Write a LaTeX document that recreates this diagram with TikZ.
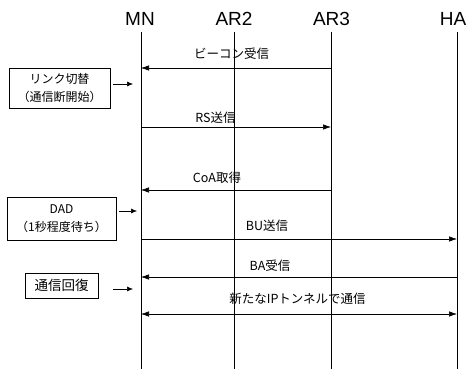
\documentclass[tikz,border=0pt]{standalone}
\usepackage{fontspec}
\setmainfont{Liberation Sans}
\newfontfamily\jpfont{Noto Sans CJK JP}
\usetikzlibrary{arrows.meta}
\begin{document}
\begin{tikzpicture}[x=1pt,y=-1pt,
  head/.style={font=\fontsize{19}{22}\selectfont},
  lbl/.style={font=\jpfont\fontsize{12.5}{14}\selectfont, inner sep=0pt},
  life/.style={line width=0.6pt},
  msg/.style={line width=0.6pt,-{Latex[length=8pt,width=5.5pt]}},
  dmsg/.style={line width=0.6pt,{Latex[length=8pt,width=5.5pt]}-{Latex[length=8pt,width=5.5pt]}},
  note/.style={draw,line width=0.7pt,font=\jpfont\fontsize{12}{17.5}\selectfont,align=center,inner sep=0pt},
  side/.style={line width=0.6pt,-{Latex[length=6pt,width=5pt]}}]
\useasboundingbox (0,0) rectangle (469,369);
% headers
\node[head] (hMN) at (140,18.5) {MN};
\node[head] (hAR2) at (234,18.5) {AR2};
\node[head] (hAR3) at (331.5,18.5) {AR3};
\node[head] (hHA) at (453,18.5) {HA};
% lifelines
\foreach \n/\x in {MN/141,AR2/234,AR3/331,HA/457}{
  \coordinate (\n t) at (\x,32);
  \coordinate (\n b) at (\x,369);
  \draw[life] (\n t) -- (\n b);
}
% message endpoints
\foreach \n/\x in {MN/141,AR3/331,HA/457}{
  \foreach \k/\y in {1/68,2/127,3/190,4/239,5/277,6/314}{
    \coordinate (\n\k) at (\x,\y);
  }
}
\draw[msg] (AR31) -- (MN1);
\draw[msg] (MN2) -- (AR32);
\draw[msg] (AR33) -- (MN3);
\draw[msg] (MN4) -- (HA4);
\draw[msg] (HA5) -- (MN5);
\draw[dmsg] (MN6) -- (HA6);
\node[lbl] (m1) at (231.5,53.5) {ビーコン受信};
\node[lbl] (m2) at (215.5,117.5) {RS送信};
\node[lbl] (m3) at (217,178) {CoA取得};
\node[lbl] (m4) at (267,226) {BU送信};
\node[lbl] (m5) at (270,266) {BA受信};
\node[lbl] (m6) at (297.5,299) {新たなIPトンネルで通信};
% side notes
\node[note,minimum width=101pt,minimum height=40pt] (n1) at (59.5,88) {リンク切替\\（通信断開始）};
\node[note,minimum width=109pt,minimum height=43pt] (n2) at (61.5,218.5) {DAD\\（1秒程度待ち）};
\node[note,minimum width=73pt,minimum height=25pt,font=\jpfont\fontsize{13.5}{16}\selectfont] (n3) at (61.5,285.5) {通信回復};
\coordinate (a1) at (133,84);
\coordinate (a2) at (137,211);
\coordinate (a3) at (133,289);
\draw[side] (n1.east |- a1) ++(3,0) -- (a1);
\draw[side] (n2.east |- a2) ++(2.5,0) -- (a2);
\draw[side] (n3.east |- a3) ++(15,0) -- (a3);
\end{tikzpicture}
\end{document}
